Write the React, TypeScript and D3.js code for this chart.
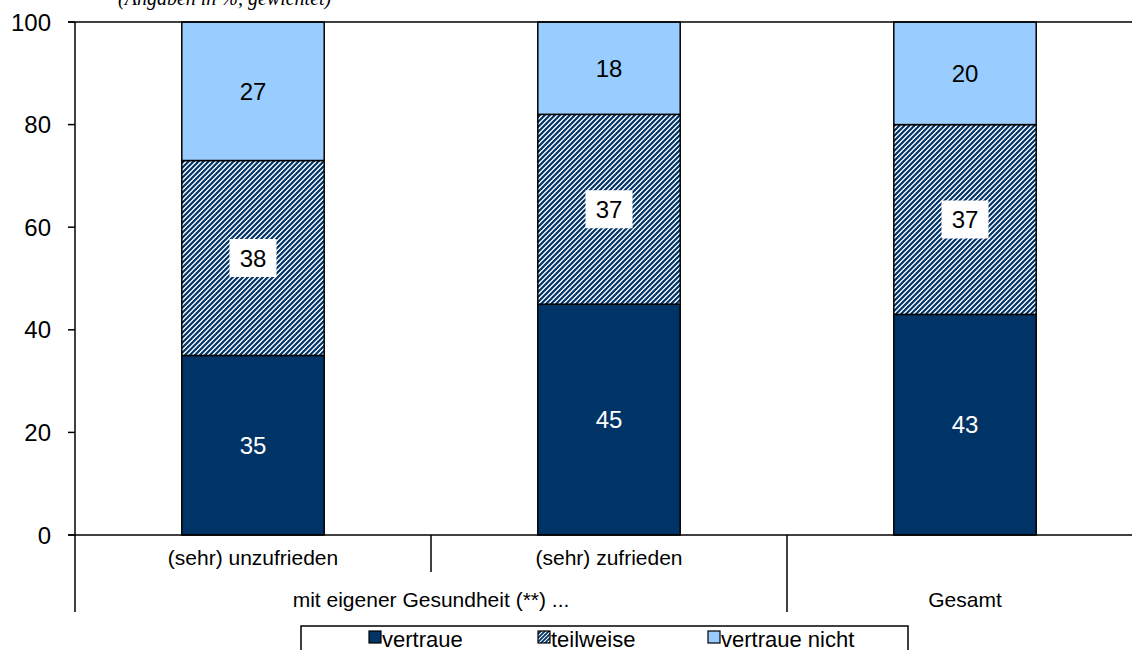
import React from "react";
import * as d3 from "d3";

const categories = ["(sehr) unzufrieden", "(sehr) zufrieden", "Gesamt"];
const seriesNames = ["vertraue", "teilweise", "vertraue nicht"];
const vertraue = [35, 45, 43];
const teilweise = [38, 37, 37];
const vertraueNicht = [27, 18, 20];
const yTicks = [0, 20, 40, 60, 80, 100];
const groupLabels = ["mit eigener Gesundheit (**) ...", "Gesamt"];
const titleText = "(Angaben in %, gewichtet)";

const NAVY = "#003366";
const LIGHT = "#99CCFF";
const FONT = "'Liberation Sans', Arial, sans-serif";

export default function App() {
  const W = 1132, H = 650;
  const left = 75, top = 22, bottom = 535;
  const x = d3.scaleBand<string>().domain(categories).range([left, left + 356 * 3]).paddingInner(0.6).paddingOuter(0.3);
  const y = d3.scaleLinear().domain([0, 100]).range([bottom, top]);
  const series = [vertraue, teilweise, vertraueNicht];
  const fills = [NAVY, "url(#hatch)", LIGHT];
  const rows = categories.map((c, i) => ({ cat: c, v0: series[0][i], v1: series[1][i], v2: series[2][i] }));
  const stack = d3.stack<any>().keys(["v0", "v1", "v2"])(rows);
  const step = x.step();

  return (
    <svg width={W} height={H} style={{ position: "absolute", left: 0, top: 0, background: "#fff" }} fontFamily={FONT}>
      <defs>
        <pattern id="hatch" patternUnits="userSpaceOnUse" width={5} height={5}>
          <rect width={5} height={5} fill="#fff" />
          <path d="M-1,1 l2,-2 M0,5 l5,-5 M4,6 l2,-2" stroke={NAVY} strokeWidth={2.2} />
        </pattern>
        <pattern id="hatchSmall" patternUnits="userSpaceOnUse" width={4} height={4}>
          <rect width={4} height={4} fill="#fff" />
          <path d="M-1,1 l2,-2 M0,4 l4,-4 M3,5 l2,-2" stroke={NAVY} strokeWidth={1.8} />
        </pattern>
      </defs>
      <text x={118} y={5} fontFamily="'Liberation Serif', serif" fontStyle="italic" fontSize={20} fill="#000">{titleText}</text>
      {/* bars */}
      {stack.map((s, si) =>
        s.map((d, ci) => {
          const cat = categories[ci];
          const bx = x(cat)!;
          const y0 = y(d[0]);
          const y1 = y(d[1]);
          return (
            <rect key={`${si}-${ci}`} x={bx} y={y1} width={x.bandwidth()} height={y0 - y1}
              fill={fills[si]} stroke="#000" strokeWidth={1.5} />
          );
        })
      )}
      {/* labels */}
      {stack.map((s, si) =>
        s.map((d, ci) => {
          const cat = categories[ci];
          const cx = x(cat)! + x.bandwidth() / 2;
          const cy = (y(d[0]) + y(d[1])) / 2;
          const val = series[si][ci];
          return (
            <g key={`l${si}-${ci}`}>
              {si === 1 && <rect x={cx - 23.5} y={cy - 19} width={47} height={38} fill="#fff" />}
              <text x={cx} y={cy} dy="0.36em" textAnchor="middle" fontSize={24} fill={si === 0 ? "#fff" : "#000"}>{val}</text>
            </g>
          );
        })
      )}
      {/* frame */}
      <line x1={68} x2={W} y1={top} y2={top} stroke="#000" strokeWidth={1.5} />
      <line x1={left} x2={left} y1={top} y2={612} stroke="#000" strokeWidth={1.5} />
      <line x1={68} x2={W} y1={bottom} y2={bottom} stroke="#000" strokeWidth={1.5} />
      {yTicks.map((t) => (
        <g key={t}>
          <line x1={68} x2={left} y1={y(t)} y2={y(t)} stroke="#000" strokeWidth={1.5} />
          <text x={51} y={y(t)} dy="0.36em" textAnchor="end" fontSize={24} fill="#000">{t}</text>
        </g>
      ))}
      {/* category separators */}
      <line x1={left + step} x2={left + step} y1={bottom} y2={572} stroke="#000" strokeWidth={1.5} />
      <line x1={left + 2 * step} x2={left + 2 * step} y1={bottom} y2={612} stroke="#000" strokeWidth={1.5} />
      {categories.slice(0, 2).map((c) => (
        <text key={c} x={x(c)! + x.bandwidth() / 2} y={565} textAnchor="middle" fontSize={21} fill="#000">{c}</text>
      ))}
      <text x={left + step} y={607} textAnchor="middle" fontSize={21} fill="#000">{groupLabels[0]}</text>
      <text x={x(categories[2])! + x.bandwidth() / 2} y={607} textAnchor="middle" fontSize={21} fill="#000">{groupLabels[1]}</text>
      {/* legend */}
      <rect x={301} y={626} width={607} height={40} fill="#fff" stroke="#000" strokeWidth={1.5} />
      {seriesNames.map((n, i) => {
        const lx = [369, 538, 708][i];
        return (
          <g key={n}>
            <rect x={lx} y={631} width={12} height={12} fill={i === 1 ? "url(#hatchSmall)" : fills[i]} stroke="#000" strokeWidth={1.2} />
            <text x={lx + 13} y={647} fontSize={22} fill="#000">{n}</text>
          </g>
        );
      })}
    </svg>
  );
}
